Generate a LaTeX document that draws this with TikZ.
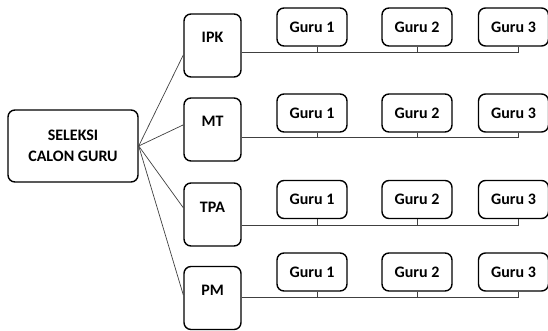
\documentclass[tikz,border=0pt]{standalone}
\usepackage{fontspec}
\setmainfont{Carlito}

\begin{document}
\begin{tikzpicture}[x=1pt, y=-1pt, font=\bfseries\fontsize{16}{21}\selectfont,
	box/.style = {draw, line width=1.4pt, rounded corners=7pt, align=center, inner sep=2pt},
	root/.style = {box, minimum width=130pt, minimum height=72pt},
	kat/.style = {box, minimum width=57pt, minimum height=63pt, text height=11pt, text depth=16pt},
	guru/.style = {box, minimum width=70pt, minimum height=38pt},
	link/.style = {draw=black!75, line width=0.7pt}]
	\useasboundingbox (0,0) rectangle (548,331);
	
	\node[root] (seleksi) at (73,146) {SELEKSI\\CALON GURU};
	
	\node[kat] (ipk) at (212.5,45.5) {IPK};
	\node[kat] (mt) at (212.5,129.5) {MT};
	\node[kat] (tpa) at (212.5,214.5) {TPA};
	\node[kat] (pm) at (212.5,298) {PM};
	
	\node[guru] (ipk1) at (312,27) {Guru 1};
	\node[guru] (ipk2) at (417,27) {Guru 2};
	\node[guru] (ipk3) at (513.5,27) {Guru 3};
	\node[guru] (mt1) at (312,113) {Guru 1};
	\node[guru] (mt2) at (417,113) {Guru 2};
	\node[guru] (mt3) at (513.5,113) {Guru 3};
	\node[guru] (tpa1) at (312,199.5) {Guru 1};
	\node[guru] (tpa2) at (417,199.5) {Guru 2};
	\node[guru] (tpa3) at (513.5,199.5) {Guru 3};
	\node[guru] (pm1) at (312,272) {Guru 1};
	\node[guru] (pm2) at (417,272) {Guru 2};
	\node[guru] (pm3) at (513.5,272) {Guru 3};
	
	% garis dari seleksi ke kriteria
	\draw[link] (seleksi.east) -- (ipk.198);
	\draw[link] (seleksi.east) -- (mt.171);
	\draw[link] (seleksi.east) -- (tpa.167);
	\draw[link] (seleksi.east) -- (pm.174);
	
	% garis kriteria ke guru
	\path ([xshift=5pt]ipk3.south) ++(0,6) coordinate (busipk);
	\path ([xshift=5pt]mt3.south) ++(0,5) coordinate (busmt);
	\path ([xshift=5pt]tpa3.south) ++(0,6) coordinate (bustpa);
	\path ([xshift=5pt]pm3.south) ++(0,6) coordinate (buspm);
	\draw[link] (ipk.east |- busipk) -- (busipk) -- ([xshift=5pt]ipk3.south);
	\draw[link] ([xshift=5pt]ipk1.south) -- ([xshift=5pt]ipk1.south |- busipk);
	\draw[link] (ipk2.south) -- (ipk2.south |- busipk);
	\draw[link] (mt.east |- busmt) -- (busmt) -- ([xshift=5pt]mt3.south);
	\draw[link] ([xshift=5pt]mt1.south) -- ([xshift=5pt]mt1.south |- busmt);
	\draw[link] (mt2.south) -- (mt2.south |- busmt);
	\draw[link] (tpa.east |- bustpa) -- (bustpa) -- ([xshift=5pt]tpa3.south);
	\draw[link] ([xshift=5pt]tpa1.south) -- ([xshift=5pt]tpa1.south |- bustpa);
	\draw[link] (tpa2.south) -- (tpa2.south |- bustpa);
	\draw[link] (pm.east |- buspm) -- (buspm) -- ([xshift=5pt]pm3.south);
	\draw[link] ([xshift=5pt]pm1.south) -- ([xshift=5pt]pm1.south |- buspm);
	\draw[link] (pm2.south) -- (pm2.south |- buspm);
\end{tikzpicture}
\end{document}
